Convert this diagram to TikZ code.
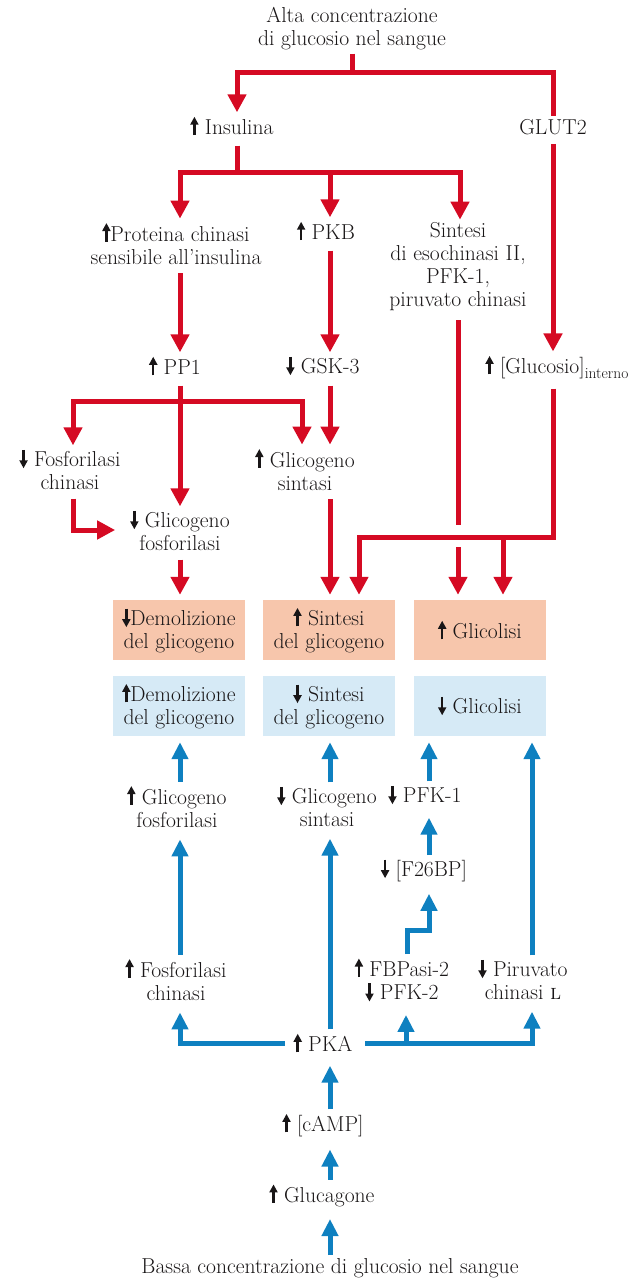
\documentclass[tikz,border=0pt]{standalone}
\usetikzlibrary{arrows.meta}
\definecolor{insred}{RGB}{213,10,35}
\definecolor{glcblue}{RGB}{14,128,192}
\definecolor{boxorange}{RGB}{247,198,172}
\definecolor{boxblue}{RGB}{214,234,246}
\definecolor{txt}{RGB}{25,22,23}
% small black arrows inside the labels
\newcommand{\frsu}{\tikz[baseline=0pt,x=1pt,y=1pt]\draw[txt,line width=2.5pt,-{Triangle[length=8pt,width=8pt]}] (0,-0.5) -- (0,18);}
\newcommand{\frgiu}{\tikz[baseline=0pt,x=1pt,y=1pt]\draw[txt,line width=2.5pt,-{Triangle[length=8pt,width=8pt]}] (0,16.5) -- (0,-2);}
\tikzset{
  lbl/.style = {align=center, inner sep=3pt, text=txt,
    font=\fontsize{21.6}{23}\selectfont},
  box_r/.style = {lbl, fill=boxorange, minimum width=132pt, minimum height=60pt},
  box_b/.style = {box_r, fill=boxblue},
  r_line/.style = {draw=insred, line width=5pt},
  r_arrow/.style = {r_line, -{Triangle[width=18pt,length=18pt]}},
  b_arrow/.style = {draw=glcblue, line width=5pt, -{Triangle[width=16pt,length=17pt]}},
  sgap/.style = {shorten <=6pt},
  tgap/.style = {shorten >=9pt},
  bgap/.style = {shorten >=5pt}
}

\begin{document}
\begin{tikzpicture}[x=1pt,y=-1pt]
\useasboundingbox (0,0) rectangle (633,1281);

% insulin side
\node[lbl] (alta) at (352,29) {Alta concentrazione\\di glucosio nel sangue};
\node[lbl] (insu) at (232,126) {\frsu\ Insulina};
\node[lbl] (glut) at (553,127) {GLUT2};
\node[lbl] (ipk) at (176,243) {\frsu Proteina chinasi\\sensibile all’insulina};
\node[lbl] (pkb) at (326,231) {\frsu\ PKB};
\node[lbl] (sint) at (458,267) {Sintesi\\di esochinasi II,\\PFK-1,\\piruvato chinasi};
\node[lbl] (pp1) at (175,366) {\frsu\ PP1};
\node[lbl] (gsk) at (323,366) {\frgiu\ GSK-3};
\node[lbl] (gluc) at (557,367) {\frsu\ [Glucosio]\raisebox{-5pt}{\fontsize{15.5}{15}\selectfont interno}};
\node[lbl] (fosk_r) at (70,469) {\frgiu\ Fosforilasi\\chinasi};
\node[lbl] (gfos_r) at (180,530) {\frgiu\ Glicogeno\\fosforilasi};
\node[lbl] (gsin_r) at (305,469) {\frsu\ Glicogeno\\sintasi};

% outcome boxes
\node[box_r] (dem_r) at (179,630) {\frgiu Demolizione\\del glicogeno};
\node[box_r] (sin_r) at (329,630) {\frsu\ Sintesi\\del glicogeno};
\node[box_r] (gli_r) at (480,630) {\frsu\ Glicolisi};
\node[box_b] (dem_b) at (179,706) {\frsu Demolizione\\del glicogeno};
\node[box_b] (sin_b) at (329,706) {\frgiu\ Sintesi\\del glicogeno};
\node[box_b] (gli_b) at (480,706) {\frgiu\ Glicolisi};

% glucagon side
\node[lbl] (gfos_b) at (177,806) {\frsu\ Glicogeno\\fosforilasi};
\node[lbl] (gsin_b) at (327,806) {\frgiu\ Glicogeno\\sintasi};
\node[lbl] (pfk1) at (425,795) {\frgiu\ PFK-1};
\node[lbl] (f26) at (424,870) {\frgiu\ [F26BP]};
\node[lbl] (fbp) at (402,980) {\frsu\ FBPasi-2\\\frgiu\ PFK-2};
\node[lbl] (piru) at (523,979) {\frgiu\ Piruvato\\chinasi \textsc{l}};
\node[lbl] (fosk_b) at (176,979) {\frsu\ Fosforilasi\\chinasi};
\node[lbl] (pka) at (323,1043) {\frsu\ PKA};
\node[lbl] (camp) at (323,1125) {\frsu\ [cAMP]};
\node[lbl] (glucag) at (322,1195) {\frsu\ Glucagone};
\node[lbl] (bassa) at (330,1268) {Bassa concentrazione di glucosio nel sangue};

% junctions
\coordinate (j0) at (352,73);
\coordinate (j1) at (237,73);
\coordinate (k0) at (237,173);
\coordinate (k1) at (180,173);
\coordinate (k2) at (330,173);
\coordinate (k3) at (460,173);
\coordinate (m0) at (180,401);
\coordinate (m1) at (73,401);
\coordinate (m2) at (302,401);
\coordinate (n0) at (553,537);
\coordinate (n1) at (359,537);
\coordinate (n2) at (503,537);
\coordinate (n3) at (458,537);
\coordinate (q1) at (406,1045);
\coordinate (q2) at (532,1045);
\coordinate (q3) at (407,930);
\coordinate (q4) at (429,930);

% red connectors
\draw[r_line] (alta.south -| j0) -- (j0);
\draw[r_arrow] (j0) -| (insu.north -| j1);
\draw[r_line] (j0) -| (glut.north);
\draw[r_line,sgap] (insu.south -| k0) -- (k0);
\draw[r_arrow] (k0) -| (ipk.north -| k1);
\draw[r_arrow] (k2) -- (pkb.north -| k2);
\draw[r_arrow] (k0) -| (sint.north -| k3);
\draw[r_arrow,sgap] (glut.south) -- (gluc.north -| glut);
\draw[r_arrow,sgap] (ipk.south -| k1) -- (pp1.north -| k1);
\draw[r_arrow,sgap] (pkb.south -| k2) -- (gsk.north -| k2);
\draw[r_arrow,sgap] (pp1.south -| m0) -- (gfos_r.north -| m0);
\draw[r_arrow] (m0) -| (fosk_r.north -| m1);
\draw[r_arrow] (m0) -| (gsin_r.north -| m2);
\draw[r_arrow,sgap] (gsk.south -| k2) -- (gsin_r.north -| k2);
\draw[r_arrow,sgap,shorten >=12pt] (fosk_r.south -| m1) |- (gfos_r.west);
\draw[r_arrow,sgap,bgap] (gfos_r.south -| m0) -- (dem_r.north -| m0);
\draw[r_arrow,sgap,bgap] (gsin_r.south -| k2) -- (sin_r.north -| k2);
\draw[r_arrow,sgap,bgap] (gluc.south -| n0) |- (n1) -- (sin_r.north -| n1);
\draw[r_arrow,bgap] (n2) -- (gli_r.north -| n2);
\draw[r_line,sgap] (sint.south -| n3) -- ([yshift=12pt]n3);
\draw[r_arrow,bgap] ([yshift=-10pt]n3) -- (gli_r.north -| n3);

% blue connectors
\draw[b_arrow,tgap] (bassa.north -| k2) -- (glucag.south -| k2);
\draw[b_arrow,tgap] (glucag.north -| k2) -- (camp.south -| k2);
\draw[b_arrow,tgap] (camp.north -| k2) -- (pka.south -| k2);
\draw[b_arrow,tgap] (pka.north -| k2) -- (gsin_b.south -| k2);
\draw[b_arrow,sgap,tgap] (pka.west) -| (fosk_b.south -| m0);
\draw[b_arrow,shorten <=10pt,tgap] (pka.east) -| (fbp.south -| q1);
\draw[b_arrow,shorten <=10pt,tgap] (pka.east) -| (piru.south -| q2);
\draw[b_arrow,tgap] (fosk_b.north -| m0) -- (gfos_b.south -| m0);
\draw[b_arrow,tgap] (fbp.north -| q3) -- (q3) -- (q4) -- (f26.south -| q4);
\draw[b_arrow,tgap] (f26.north -| q4) -- (pfk1.south -| q4);
\draw[b_arrow,shorten >=6pt] (gfos_b.north -| m0) -- (dem_b.south -| m0);
\draw[b_arrow,shorten >=6pt] (gsin_b.north -| k2) -- (sin_b.south -| k2);
\draw[b_arrow,shorten >=6pt] (pfk1.north -| q4) -- (gli_b.south -| q4);
\draw[b_arrow,shorten >=6pt] (piru.north -| q2) -- (gli_b.south -| q2);
\end{tikzpicture}
\end{document}
